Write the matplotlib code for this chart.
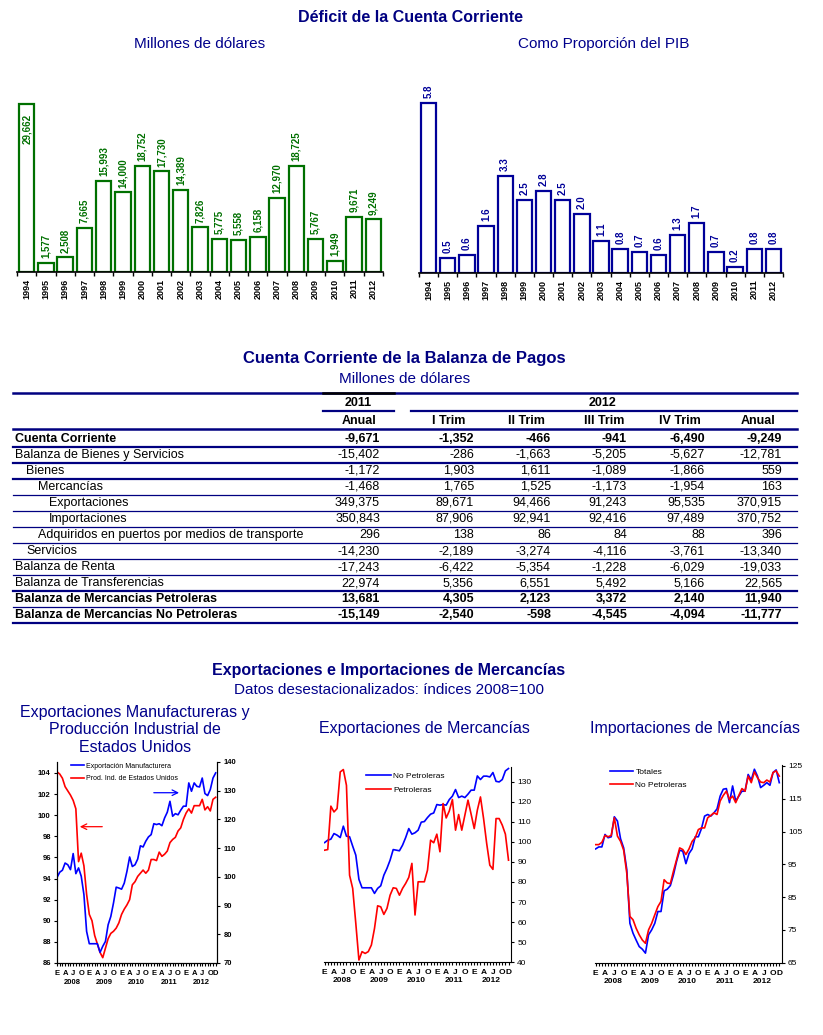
import numpy as np
import matplotlib.pyplot as plt

plt.rcParams['font.family'] = ['Liberation Sans', 'DejaVu Sans']

# ---------------- datos ----------------
anios = list(range(1994, 2013))
deficit_mdd = [29662, 1577, 2508, 7665, 15993, 14000, 18752, 17730, 14389, 7826,
               5775, 5558, 6158, 12970, 18725, 5767, 1949, 9671, 9249]
deficit_pib = [5.8, 0.5, 0.6, 1.6, 3.3, 2.5, 2.8, 2.5, 2.0, 1.1,
               0.8, 0.7, 0.6, 1.3, 1.7, 0.7, 0.2, 0.8, 0.8]

filas = ['Cuenta Corriente', 'Balanza de Bienes y Servicios', 'Bienes', 'Mercancías',
         'Exportaciones', 'Importaciones', 'Adquiridos en puertos por medios de transporte',
         'Servicios', 'Balanza de Renta', 'Balanza de Transferencias',
         'Balanza de Mercancias Petroleras', 'Balanza de Mercancias No Petroleras']
nivel = [0, 0, 1, 2, 3, 3, 2, 1, 0, 0, 0, 0]
negrita = [True, False, False, False, False, False, False, False, False, False, True, True]
columnas = ['Anual', 'I Trim', 'II Trim', 'III Trim', 'IV Trim', 'Anual']
anual_2011 = [-9671, -15402, -1172, -1468, 349375, 350843, 296, -14230, -17243, 22974, 13681, -15149]
trim1_2012 = [-1352, -286, 1903, 1765, 89671, 87906, 138, -2189, -6422, 5356, 4305, -2540]
trim2_2012 = [-466, -1663, 1611, 1525, 94466, 92941, 86, -3274, -5354, 6551, 2123, -598]
trim3_2012 = [-941, -5205, -1089, -1173, 91243, 92416, 84, -4116, -1228, 5492, 3372, -4545]
trim4_2012 = [-6490, -5627, -1866, -1954, 95535, 97489, 88, -3761, -6029, 5166, 2140, -4094]
anual_2012 = [-9249, -12781, 559, 163, 370915, 370752, 396, -13340, -19033, 22565, 11940, -11777]

# indices mensuales ene-2008 a dic-2012
exp_manuf = [99.8, 101.6, 102.3, 104.8, 104.2, 102.5, 108.1, 101.1, 103.1, 100.2, 93.8, 81.0,
             76.7, 76.7, 76.7, 76.7, 73.7, 75.8, 77.5, 83.3, 86.2, 90.9, 96.4, 96.1,
             95.7, 97.8, 101.9, 106.9, 103.6, 104.2, 106.2, 110.8, 110.4, 112.4, 113.9, 114.7,
             118.5, 118.2, 118.5, 117.8, 120.5, 122.5, 126.3, 121.1, 122.0, 121.6, 123.2, 124.6,
             124.6, 132.7, 129.8, 132.7, 131.5, 131.3, 134.4, 129.0, 128.3, 130.4, 134.4, 136.2]
prod_ind_eua = [104.1, 103.9, 103.5, 102.7, 102.3, 101.9, 101.4, 100.6, 95.6, 96.4, 95.2, 92.5,
                90.6, 90.0, 88.6, 87.8, 87.0, 86.5, 87.4, 88.3, 88.8, 89.0, 89.3, 89.8,
                90.6, 91.1, 91.5, 92.0, 93.4, 93.7, 94.2, 94.5, 94.8, 94.5, 94.8, 95.8,
                95.8, 95.7, 96.5, 96.1, 96.3, 96.6, 97.4, 97.7, 97.9, 98.5, 98.8, 99.6,
                100.2, 100.6, 100.2, 100.9, 100.9, 100.9, 101.5, 100.5, 100.8, 100.4, 101.5, 101.7]
exp_no_petro = [99.7, 100.9, 101.4, 104.2, 103.4, 102.2, 107.9, 102.9, 102.6, 97.9, 93.4, 81.3,
                77.1, 77.1, 77.1, 77.1, 74.3, 76.8, 78.1, 83.4, 86.8, 90.9, 96.2, 95.9,
                95.6, 98.4, 102.2, 106.7, 103.9, 104.6, 105.9, 109.9, 110.2, 112.2, 113.9, 114.5,
                118.7, 118.4, 118.7, 118.4, 121.2, 122.9, 126.2, 122.2, 122.9, 122.2, 123.9, 125.9,
                125.9, 133.0, 131.2, 132.9, 132.9, 132.5, 134.7, 130.3, 130.0, 131.2, 135.5, 136.7]
exp_petro = [95.9, 96.2, 117.9, 115.0, 116.7, 135.0, 136.2, 128.3, 83.4, 76.8, 59.3, 41.0,
             45.2, 44.3, 45.2, 48.5, 56.8, 68.1, 67.6, 63.8, 66.8, 73.4, 77.1, 76.8,
             73.4, 76.8, 79.3, 82.3, 89.3, 63.5, 80.1, 80.1, 80.1, 85.9, 100.9, 99.6,
             103.9, 95.1, 119.2, 112.0, 115.5, 121.2, 105.9, 113.7, 105.9, 113.4, 120.9, 113.9,
             106.7, 115.9, 122.5, 111.7, 99.2, 88.4, 86.3, 111.7, 111.7, 108.4, 103.9, 90.9]
imp_totales = [99.7, 100.3, 100.3, 104.1, 103.1, 103.4, 109.5, 108.2, 102.8, 100.0, 93.4, 77.0,
               74.0, 71.9, 69.9, 69.1, 67.9, 73.5, 75.0, 77.0, 80.6, 80.6, 86.9, 87.4,
               88.5, 91.8, 95.9, 99.3, 99.0, 95.2, 98.3, 99.7, 103.4, 103.4, 105.9, 109.7,
               110.2, 109.7, 110.7, 111.9, 115.8, 117.9, 118.1, 113.8, 118.9, 114.3, 115.8, 117.3,
               117.3, 122.4, 120.7, 124.0, 121.9, 118.4, 119.1, 119.9, 119.1, 123.0, 123.8, 119.9]
imp_no_petro = [101.0, 101.0, 101.7, 103.8, 103.4, 103.8, 109.2, 103.6, 102.0, 99.3, 92.3, 79.1,
                78.1, 75.5, 73.5, 71.9, 70.9, 75.0, 77.0, 79.6, 82.1, 83.7, 90.3, 89.3,
                89.1, 92.9, 96.4, 100.0, 99.5, 98.0, 99.7, 102.0, 103.1, 105.6, 106.1, 106.1,
                109.2, 109.9, 110.7, 110.2, 114.3, 116.0, 117.3, 114.8, 115.8, 113.8, 116.0, 118.1,
                117.3, 121.9, 119.9, 123.2, 121.4, 120.1, 119.9, 120.7, 120.1, 123.0, 123.5, 121.9]

anios_mes = [2008, 2009, 2010, 2011, 2012]
letras_mes = ['E', 'A', 'J', 'O']

NAVY = '#000080'
AZUL_TXT = '#00008b'
VERDE = '#007000'
AZUL_BAR = '#000099'
AZUL = '#0000ff'
ROJO = '#ff0000'

fig = plt.figure(figsize=(8.23, 10.35), dpi=100)

# capa en pixeles para titulos y tabla
ov = fig.add_axes([0, 0, 1, 1], zorder=-1)
ov.set_xlim(0, 823)
ov.set_ylim(1035, 0)
ov.axis('off')

# ---------------- graficas de barras ----------------
ov.text(411, 17, 'Déficit de la Cuenta Corriente', ha='center', va='center',
        fontsize=11.5, fontweight='bold', color=NAVY)
ov.text(200, 44, 'Millones de dólares', ha='center', va='center', fontsize=11, color=AZUL_TXT)
ov.text(604, 44, 'Como Proporción del PIB', ha='center', va='center', fontsize=11, color=AZUL_TXT)


def barras(ax, vals, color, fmt, tope):
    x = np.arange(len(anios))
    ax.bar(x, vals, width=0.8, facecolor='white', edgecolor=color, linewidth=1.6)
    ax.set_xlim(-0.5, len(anios) - 0.5)
    ax.set_ylim(0, tope)
    for i, v in enumerate(vals):
        if v > 0.88 * tope:
            ax.annotate(fmt(v), (i, v), xytext=(0, -7), textcoords='offset points',
                        rotation=90, ha='center', va='top', fontsize=7,
                        fontweight='bold', color=color)
        else:
            ax.annotate(fmt(v), (i, v), xytext=(0, 3.5), textcoords='offset points',
                        rotation=90, ha='center', va='bottom', fontsize=7,
                        fontweight='bold', color=color)
    ax.set_xticks(x)
    ax.set_xticklabels(anios, rotation=90, fontsize=6.5, fontweight='bold')
    ax.tick_params(axis='x', which='major', length=0, pad=5)
    ax.set_xticks(np.arange(-0.5, len(anios)), minor=True)
    ax.tick_params(axis='x', which='minor', length=3, width=1)
    ax.set_yticks([])
    for s in ['left', 'right', 'top']:
        ax.spines[s].set_visible(False)
    ax.spines['bottom'].set_linewidth(1.2)
    ax.patch.set_alpha(0)


ax_a = fig.add_axes([0.0207, 0.7375, 0.4447, 0.1749])
barras(ax_a, deficit_mdd, VERDE, lambda v: f'{v:,}', 32000)
ax_b = fig.add_axes([0.5091, 0.7365, 0.4423, 0.1976])
barras(ax_b, deficit_pib, AZUL_BAR, lambda v: f'{v:.1f}', 7.0)

# ---------------- tabla ----------------
ov.text(404, 359, 'Cuenta Corriente de la Balanza de Pagos', ha='center', va='center',
        fontsize=12, fontweight='bold', color=NAVY)
ov.text(405, 379, 'Millones de dólares', ha='center', va='center', fontsize=11, color=AZUL_TXT)

x_izq, x_der = 12.6, 797
col_der = [380, 474, 551, 627, 705, 782]
col_cen = [359, 449, 526, 604, 680, 758]
sangria = [14.7, 26.2, 37.8, 49.3]
fs_tab = 9

ov.plot([x_izq, x_der], [393, 393], color=NAVY, lw=1.8)
ov.plot([323, 394], [393, 393], color='black', lw=1.8)
ov.text(358, 402.5, '2011', ha='center', va='center', fontsize=fs_tab, fontweight='bold')
ov.text(603, 402.5, '2012', ha='center', va='center', fontsize=fs_tab, fontweight='bold')
ov.plot([323, 394], [411, 411], color=NAVY, lw=1.6)
ov.plot([411, x_der], [411, 411], color=NAVY, lw=1.6)
for c, t in zip(col_cen, columnas):
    ov.text(c, 420.5, t, ha='center', va='center', fontsize=fs_tab, fontweight='bold')
ov.plot([x_izq, x_der], [429.3, 429.3], color=NAVY, lw=1.8)

cols = [anual_2011, trim1_2012, trim2_2012, trim3_2012, trim4_2012, anual_2012]
gruesas = [True, True, True, False, False, False, False, False, False, True, False, True]
for i, nombre in enumerate(filas):
    y = 438.7 + 16.05 * i
    peso = 'bold' if negrita[i] else 'normal'
    ov.text(sangria[nivel[i]], y, nombre, ha='left', va='center', fontsize=fs_tab, fontweight=peso)
    for xc, col in zip(col_der, cols):
        ov.text(xc, y, f'{col[i]:,}', ha='right', va='center', fontsize=fs_tab, fontweight=peso)
    ov.plot([x_izq, x_der], [y + 8, y + 8], color=NAVY, lw=1.6 if gruesas[i] else 0.9)

# ---------------- graficas de lineas ----------------
ov.text(389, 670, 'Exportaciones e Importaciones de Mercancías', ha='center', va='center',
        fontsize=11.5, fontweight='bold', color=NAVY)
ov.text(389, 690, 'Datos desestacionalizados: índices 2008=100', ha='center', va='center',
        fontsize=11, color=AZUL_TXT)
ov.text(135, 730, 'Exportaciones Manufactureras y\nProducción Industrial de\nEstados Unidos',
        ha='center', va='center', fontsize=11.5, color=AZUL_TXT, linespacing=1.22)
ov.text(424, 729, 'Exportaciones de Mercancías', ha='center', va='center', fontsize=11.5, color=AZUL_TXT)
ov.text(695, 729, 'Importaciones de Mercancías', ha='center', va='center', fontsize=11.5, color=AZUL_TXT)

meses = np.arange(len(exp_manuf))


def eje_meses(ax, fs):
    pos, lab = [], []
    for k in range(len(anios_mes)):
        for j, l in enumerate(letras_mes):
            pos.append(12 * k + 3 * j)
            lab.append(l)
    pos.append(len(meses) - 1)
    lab.append('D')
    ax.set_xticks(pos)
    ax.set_xticklabels(lab, fontsize=fs, fontweight='bold')
    ax.set_xticks(meses, minor=True)
    ax.tick_params(axis='x', which='both', length=2.5, width=0.8, pad=2.5)
    for k, a in enumerate(anios_mes):
        ax.text(12 * k + 5.5, -0.095, str(a), transform=ax.get_xaxis_transform(),
                ha='center', va='center', fontsize=fs, fontweight='bold')
    ax.spines['top'].set_visible(False)


# grafica 1
ax1 = fig.add_axes([0.0693, 0.0696, 0.1944, 0.1942])
ax1r = ax1.twinx()
l_rojo, = ax1.plot(meses, prod_ind_eua, color=ROJO, lw=1.2)
l_azul, = ax1r.plot(meses, exp_manuf, color=AZUL, lw=1.2)
ax1.set_xlim(0, 59.5)
ax1.set_ylim(86, 105.04)
ax1.set_yticks(np.arange(86, 105, 2))
ax1r.set_ylim(70, 140)
ax1r.set_yticks(np.arange(70, 141, 10))
eje_meses(ax1, 5.5)
ax1r.spines['top'].set_visible(False)
for a in (ax1, ax1r):
    a.tick_params(axis='y', length=2.5, width=0.8, labelsize=5.5, pad=2)
    for t in a.get_yticklabels():
        t.set_fontweight('bold')
ax1.legend([l_azul, l_rojo], ['Exportación Manufacturera', 'Prod. Ind. de Estados Unidos'],
           loc='upper left', bbox_to_anchor=(0.07, 1.01), frameon=False, fontsize=5,
           handlelength=1.9, handletextpad=0.3, labelspacing=0.75, borderaxespad=0)
ax1.annotate('', xy=(0.78, 0.847), xytext=(0.5875, 0.847), xycoords='axes fraction',
             arrowprops=dict(arrowstyle='->', color=AZUL, lw=0.9))
ax1.annotate('', xy=(0.125, 0.678), xytext=(0.30, 0.678), xycoords='axes fraction',
             arrowprops=dict(arrowstyle='->', color=ROJO, lw=0.9))

# grafica 2
ax2 = fig.add_axes([0.3937, 0.0705, 0.2272, 0.1887])
ax2.plot(meses, exp_no_petro, color=AZUL, lw=1.2, label='No Petroleras')
ax2.plot(meses, exp_petro, color=ROJO, lw=1.2, label='Petroleras')
ax2.set_xlim(-0.2, 59.8)
ax2.set_ylim(40, 137.6)
ax2.set_yticks(np.arange(40, 131, 10))
ax2.yaxis.tick_right()
ax2.spines['left'].set_visible(False)
eje_meses(ax2, 6)
ax2.tick_params(axis='y', length=2.5, width=0.8, labelsize=6, pad=2)
ax2.legend(loc='upper left', bbox_to_anchor=(0.205, 0.99), frameon=False, fontsize=6,
           handlelength=3.0, handletextpad=0.3, labelspacing=0.8, borderaxespad=0)

# grafica 3
ax3 = fig.add_axes([0.723, 0.0699, 0.2269, 0.191])
ax3.plot(meses, imp_totales, color=AZUL, lw=1.2, label='Totales')
ax3.plot(meses, imp_no_petro, color=ROJO, lw=1.2, label='No Petroleras')
ax3.set_xlim(-0.2, 59.8)
ax3.set_ylim(65, 125.3)
ax3.set_yticks(np.arange(65, 126, 10))
ax3.yaxis.tick_right()
ax3.spines['left'].set_visible(False)
eje_meses(ax3, 6)
ax3.tick_params(axis='y', length=2.5, width=0.8, labelsize=6, pad=2)
ax3.legend(loc='upper left', bbox_to_anchor=(0.06, 1.0), frameon=False, fontsize=6,
           handlelength=2.8, handletextpad=0.3, labelspacing=0.65, borderaxespad=0)

fig.savefig('out.png', dpi=100)
